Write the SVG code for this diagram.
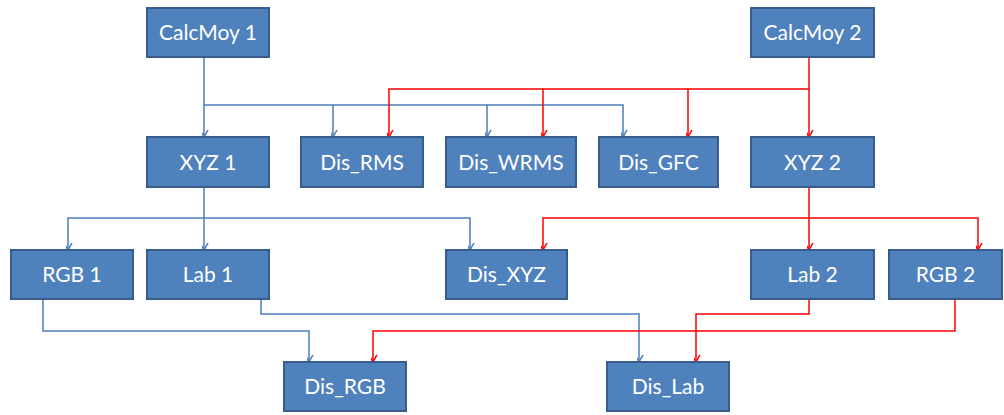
<svg xmlns="http://www.w3.org/2000/svg" width="1004" height="415" viewBox="0 0 1004 415">
  <style>
    .box rect { fill: #4F81BD; stroke: #385D8A; stroke-width: 2; }
    .box text { fill: #FFFFFF; font-family: "Lato", "Open Sans", "Liberation Sans", sans-serif; font-size: 21px; text-anchor: middle; }
    .blue { fill: none; stroke: #4A7EBB; stroke-width: 1.5; }
    .red { fill: none; stroke: #FF0000; stroke-width: 1.5; }
  </style>
  <defs>
    <marker id="arrBlue" markerUnits="userSpaceOnUse" markerWidth="14" markerHeight="14" viewBox="-7 -12 14 14" refX="0" refY="0" orient="auto-start-reverse">
      <path d="M-5,-9 L0,0 L5,-9" fill="none" stroke="#4A7EBB" stroke-width="1.5" transform="rotate(-90)"/>
    </marker>
    <marker id="arrRed" markerUnits="userSpaceOnUse" markerWidth="14" markerHeight="14" viewBox="-7 -12 14 14" refX="0" refY="0" orient="auto-start-reverse">
      <path d="M-5,-9 L0,0 L5,-9" fill="none" stroke="#FF0000" stroke-width="1.5" transform="rotate(-90)"/>
    </marker>
  </defs>

  <g id="connectors">
    <!-- blue -->
    <path class="blue" d="M204,57 V137" marker-end="url(#arrBlue)"/>
    <path class="blue" d="M204,105 H333 V137" marker-end="url(#arrBlue)"/>
    <path class="blue" d="M333,105 H487 V137" marker-end="url(#arrBlue)"/>
    <path class="blue" d="M487,105 H623 V137" marker-end="url(#arrBlue)"/>
    <path class="blue" d="M204,187 V250" marker-end="url(#arrBlue)"/>
    <path class="blue" d="M204,218 H68 V250" marker-end="url(#arrBlue)"/>
    <path class="blue" d="M204,218 H470 V250" marker-end="url(#arrBlue)"/>
    <path class="blue" d="M43,299 V331 H309 V362" marker-end="url(#arrBlue)"/>
    <path class="blue" d="M261,299 V314 H639 V362" marker-end="url(#arrBlue)"/>
    <!-- red -->
    <path class="red" d="M809,50 V137" marker-end="url(#arrRed)"/>
    <path class="red" d="M809,89 H688 V137" marker-end="url(#arrRed)"/>
    <path class="red" d="M688,89 H543 V137" marker-end="url(#arrRed)"/>
    <path class="red" d="M543,89 H389 V137" marker-end="url(#arrRed)"/>
    <path class="red" d="M809,187 V250" marker-end="url(#arrRed)"/>
    <path class="red" d="M809,218 H543 V250" marker-end="url(#arrRed)"/>
    <path class="red" d="M809,218 H978 V250" marker-end="url(#arrRed)"/>
    <path class="red" d="M809,299 V314 H696 V362" marker-end="url(#arrRed)"/>
    <path class="red" d="M955,299 V331 H373 V362" marker-end="url(#arrRed)"/>
  </g>

  <g id="calcmoy1" class="box"><rect x="147" y="8" width="122" height="49"/><text x="208" y="40">CalcMoy 1</text></g>
  <g id="calcmoy2" class="box"><rect x="751" y="8" width="123" height="49"/><text x="812.5" y="40">CalcMoy 2</text></g>
  <g id="xyz1" class="box"><rect x="147" y="137" width="122" height="50"/><text x="208" y="170">XYZ 1</text></g>
  <g id="dis_rms" class="box"><rect x="301" y="137" width="122" height="50"/><text x="362" y="170">Dis_RMS</text></g>
  <g id="dis_wrms" class="box"><rect x="446" y="137" width="130" height="50"/><text x="511" y="170">Dis_WRMS</text></g>
  <g id="dis_gfc" class="box"><rect x="599" y="137" width="119" height="50"/><text x="658.5" y="170">Dis_GFC</text></g>
  <g id="xyz2" class="box"><rect x="751" y="137" width="123" height="50"/><text x="812.5" y="170">XYZ 2</text></g>
  <g id="rgb1" class="box"><rect x="11" y="250" width="122" height="49"/><text x="72" y="282">RGB 1</text></g>
  <g id="lab1" class="box"><rect x="147" y="250" width="122" height="49"/><text x="208" y="282">Lab 1</text></g>
  <g id="dis_xyz" class="box"><rect x="446" y="250" width="121" height="49"/><text x="506.5" y="282">Dis_XYZ</text></g>
  <g id="lab2" class="box"><rect x="751" y="250" width="123" height="49"/><text x="812.5" y="282">Lab 2</text></g>
  <g id="rgb2" class="box"><rect x="889" y="250" width="113" height="49"/><text x="945.5" y="282">RGB 2</text></g>
  <g id="dis_rgb" class="box"><rect x="284" y="362" width="122" height="49"/><text x="345" y="394">Dis_RGB</text></g>
  <g id="dis_lab" class="box"><rect x="607" y="362" width="122" height="49"/><text x="668" y="394">Dis_Lab</text></g>
</svg>
